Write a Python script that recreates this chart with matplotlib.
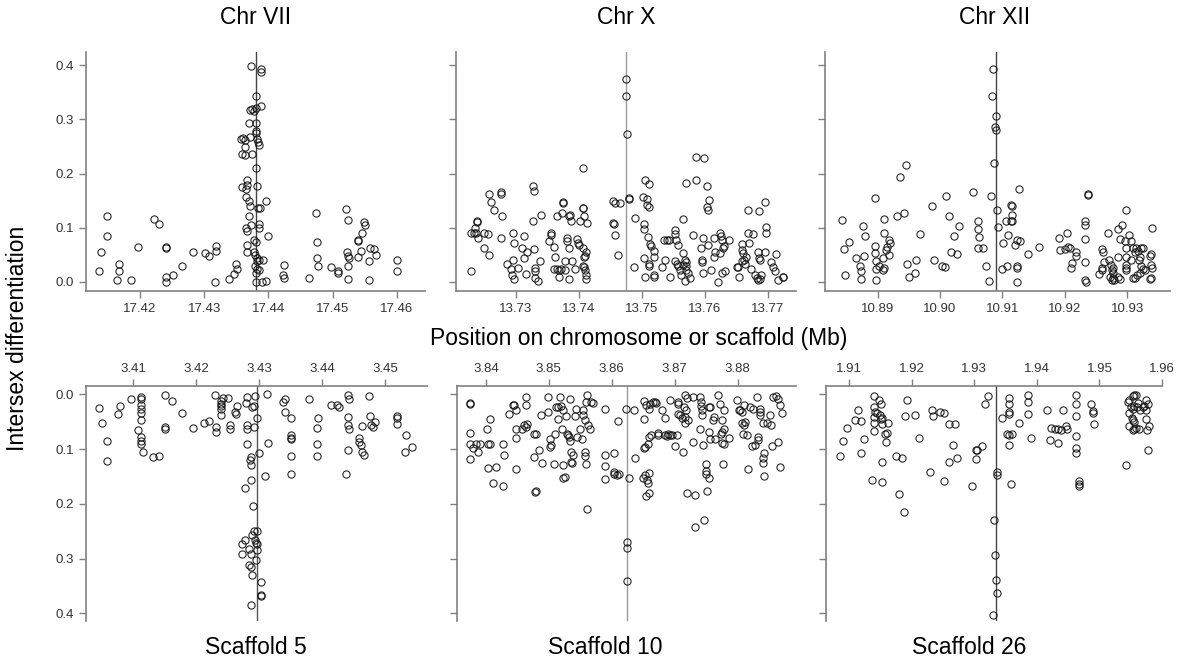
import numpy as np
import matplotlib.pyplot as plt

plt.rcParams['font.family'] = ['Liberation Sans', 'DejaVu Sans']

# (position in Mb, intersex differentiation)
chr7 = [
    (17.4136, 0.021), (17.4140, 0.055), (17.4148, 0.122), (17.4148, 0.085), (17.4164, 0.003),
    (17.4167, 0.034), (17.4168, 0.021), (17.4186, 0.003), (17.4197, 0.065), (17.4222, 0.116),
    (17.4230, 0.106), (17.4241, 0.062), (17.4240, 0.064), (17.4241, 0.009), (17.4241, 0.000),
    (17.4251, 0.012), (17.4266, 0.030), (17.4282, 0.055), (17.4301, 0.053), (17.4308, 0.048),
    (17.4318, 0.067), (17.4318, 0.058), (17.4317, 0.000), (17.4338, 0.005), (17.4347, 0.015),
    (17.4349, 0.033), (17.4351, 0.024),
    (17.4373, 0.398), (17.4389, 0.392), (17.4389, 0.387), (17.4381, 0.343), (17.4389, 0.325),
    (17.4371, 0.317), (17.4375, 0.319), (17.4381, 0.320), (17.4378, 0.316), (17.4370, 0.294),
    (17.4381, 0.294), (17.4381, 0.279), (17.4381, 0.274), (17.4358, 0.263), (17.4361, 0.266),
    (17.4363, 0.262), (17.4371, 0.267), (17.4383, 0.263), (17.4384, 0.259), (17.4385, 0.252),
    (17.4363, 0.249), (17.4359, 0.236), (17.4364, 0.234), (17.4374, 0.236), (17.4381, 0.211),
    (17.4366, 0.188), (17.4367, 0.179), (17.4359, 0.176), (17.4365, 0.172), (17.4383, 0.177),
    (17.4365, 0.156), (17.4370, 0.150), (17.4372, 0.140), (17.4384, 0.137), (17.4387, 0.137),
    (17.4396, 0.150), (17.4370, 0.121), (17.4373, 0.105), (17.4365, 0.099), (17.4367, 0.094),
    (17.4385, 0.107), (17.4385, 0.100), (17.4399, 0.085), (17.4366, 0.069), (17.4377, 0.078),
    (17.4381, 0.074), (17.4367, 0.055), (17.4377, 0.055), (17.4379, 0.049), (17.4383, 0.044),
    (17.4385, 0.041), (17.4382, 0.038), (17.4391, 0.040), (17.4379, 0.029), (17.4382, 0.024),
    (17.4385, 0.023), (17.4381, 0.017), (17.4381, 0.000), (17.4390, 0.000), (17.4397, 0.001),
    (17.4425, 0.032), (17.4423, 0.012), (17.4425, 0.007), (17.4463, 0.007), (17.4475, 0.128),
    (17.4476, 0.073), (17.4476, 0.044), (17.4477, 0.030), (17.4498, 0.028), (17.4509, 0.021),
    (17.4509, 0.017), (17.4521, 0.135), (17.4524, 0.114), (17.4523, 0.055), (17.4524, 0.048),
    (17.4525, 0.044), (17.4524, 0.029), (17.4524, 0.006), (17.4539, 0.076), (17.4540, 0.078),
    (17.4539, 0.047), (17.4545, 0.058), (17.4546, 0.091), (17.4549, 0.110), (17.4551, 0.105),
    (17.4556, 0.003), (17.4557, 0.039), (17.4559, 0.062), (17.4565, 0.061), (17.4567, 0.050),
    (17.4600, 0.041), (17.4600, 0.020),
]

chr10 = [
    (13.7229, 0.021), (13.7229, 0.090), (13.7233, 0.090), (13.7237, 0.091), (13.7235, 0.099),
    (13.7238, 0.110), (13.7239, 0.112), (13.7240, 0.082), (13.7250, 0.091), (13.7256, 0.088),
    (13.7250, 0.063), (13.7257, 0.050), (13.7257, 0.162), (13.7261, 0.148), (13.7266, 0.132),
    (13.7276, 0.165), (13.7276, 0.162), (13.7278, 0.122), (13.7276, 0.082), (13.7286, 0.034),
    (13.7296, 0.041), (13.7296, 0.090), (13.7297, 0.072), (13.7292, 0.024), (13.7294, 0.013),
    (13.7297, 0.006), (13.7303, 0.026), (13.7310, 0.063), (13.7313, 0.085), (13.7313, 0.044),
    (13.7316, 0.015), (13.7317, 0.056), (13.7328, 0.177), (13.7329, 0.167), (13.7327, 0.113),
    (13.7329, 0.061), (13.7331, 0.026), (13.7331, 0.020), (13.7331, 0.007), (13.7335, 0.001),
    (13.7338, 0.039), (13.7340, 0.124), (13.7353, 0.075), (13.7356, 0.091), (13.7356, 0.087),
    (13.7360, 0.064), (13.7362, 0.047), (13.7361, 0.024), (13.7365, 0.024), (13.7369, 0.023),
    (13.7371, 0.024), (13.7365, 0.122), (13.7373, 0.127), (13.7369, 0.010), (13.7375, 0.148),
    (13.7375, 0.146), (13.7378, 0.039), (13.7378, 0.023), (13.7381, 0.081), (13.7381, 0.075),
    (13.7384, 0.006), (13.7385, 0.063), (13.7385, 0.121), (13.7386, 0.124), (13.7387, 0.112),
    (13.7390, 0.039), (13.7394, 0.024), (13.7397, 0.079), (13.7399, 0.072), (13.7401, 0.069),
    (13.7402, 0.112), (13.7406, 0.136), (13.7407, 0.136), (13.7408, 0.121), (13.7413, 0.108),
    (13.7407, 0.211), (13.7407, 0.063), (13.7408, 0.047), (13.7410, 0.048), (13.7412, 0.055),
    (13.7406, 0.029), (13.7408, 0.027), (13.7410, 0.023), (13.7412, 0.013), (13.7412, 0.006),
    (13.7455, 0.150), (13.7457, 0.146), (13.7465, 0.145), (13.7455, 0.108), (13.7456, 0.107),
    (13.7458, 0.087), (13.7462, 0.049), (13.7475, 0.375), (13.7475, 0.343), (13.7476, 0.273),
    (13.7479, 0.154), (13.7480, 0.153), (13.7489, 0.118), (13.7488, 0.027), (13.7502, 0.156),
    (13.7505, 0.188), (13.7511, 0.180), (13.7508, 0.153), (13.7509, 0.142), (13.7512, 0.138),
    (13.7503, 0.107), (13.7504, 0.097), (13.7504, 0.044), (13.7505, 0.009), (13.7510, 0.083),
    (13.7513, 0.070), (13.7514, 0.066), (13.7520, 0.058), (13.7520, 0.047), (13.7511, 0.034),
    (13.7512, 0.030), (13.7520, 0.013), (13.7520, 0.010), (13.7532, 0.027), (13.7537, 0.041),
    (13.7536, 0.078), (13.7540, 0.078), (13.7544, 0.077), (13.7545, 0.009), (13.7553, 0.088),
    (13.7553, 0.096), (13.7554, 0.077), (13.7557, 0.069), (13.7565, 0.116), (13.7566, 0.053),
    (13.7553, 0.038), (13.7556, 0.034), (13.7558, 0.029), (13.7561, 0.023), (13.7563, 0.013),
    (13.7566, 0.032), (13.7569, 0.041), (13.7570, 0.036), (13.7570, 0.029), (13.7571, 0.023),
    (13.7569, 0.001), (13.7576, 0.007), (13.7573, 0.017), (13.7571, 0.182), (13.7581, 0.087),
    (13.7586, 0.230), (13.7599, 0.228), (13.7586, 0.188), (13.7594, 0.063), (13.7595, 0.036),
    (13.7595, 0.040), (13.7597, 0.017), (13.7598, 0.081), (13.7604, 0.177), (13.7603, 0.139),
    (13.7606, 0.133), (13.7607, 0.151), (13.7606, 0.069), (13.7610, 0.023), (13.7614, 0.081),
    (13.7615, 0.047), (13.7617, 0.056), (13.7621, 0.000), (13.7624, 0.090), (13.7626, 0.084),
    (13.7627, 0.078), (13.7629, 0.063), (13.7630, 0.067), (13.7624, 0.053), (13.7632, 0.021),
    (13.7627, 0.017), (13.7639, 0.078), (13.7651, 0.027), (13.7653, 0.028), (13.7655, 0.009),
    (13.7659, 0.070), (13.7660, 0.059), (13.7661, 0.053), (13.7659, 0.038), (13.7662, 0.041),
    (13.7664, 0.034), (13.7666, 0.047), (13.7668, 0.133), (13.7669, 0.090), (13.7676, 0.088),
    (13.7671, 0.072), (13.7674, 0.024), (13.7680, 0.012), (13.7683, 0.007), (13.7685, 0.004),
    (13.7688, 0.006), (13.7689, 0.013), (13.7686, 0.131), (13.7685, 0.055), (13.7687, 0.044),
    (13.7688, 0.040), (13.7696, 0.148), (13.7697, 0.090), (13.7698, 0.102), (13.7696, 0.055),
    (13.7706, 0.036), (13.7709, 0.027), (13.7711, 0.020), (13.7714, 0.051), (13.7716, 0.004),
    (13.7724, 0.010), (13.7725, 0.009),
]

chr12 = [
    (10.8843, 0.115), (10.8847, 0.061), (10.8848, 0.012), (10.8855, 0.073), (10.8866, 0.044),
    (10.8872, 0.029), (10.8873, 0.020), (10.8874, 0.006), (10.8876, 0.104), (10.8878, 0.048),
    (10.8880, 0.084), (10.8896, 0.154), (10.8896, 0.066), (10.8896, 0.053), (10.8898, 0.038),
    (10.8897, 0.024), (10.8898, 0.004), (10.8902, 0.030), (10.8909, 0.023), (10.8910, 0.026),
    (10.8909, 0.044), (10.8910, 0.116), (10.8910, 0.090), (10.8914, 0.059), (10.8916, 0.064),
    (10.8918, 0.078), (10.8920, 0.072), (10.8919, 0.050), (10.8932, 0.121), (10.8936, 0.193),
    (10.8942, 0.127), (10.8946, 0.216), (10.8947, 0.034), (10.8951, 0.009), (10.8960, 0.017),
    (10.8962, 0.040), (10.8968, 0.089), (10.8987, 0.141), (10.8991, 0.041), (10.9004, 0.030),
    (10.9008, 0.028), (10.9010, 0.159), (10.9015, 0.121), (10.9017, 0.055), (10.9023, 0.084),
    (10.9027, 0.052), (10.9031, 0.104), (10.9053, 0.165), (10.9060, 0.112), (10.9060, 0.097),
    (10.9062, 0.083), (10.9061, 0.063), (10.9069, 0.063), (10.9074, 0.029), (10.9079, 0.001),
    (10.9082, 0.159), (10.9085, 0.392), (10.9083, 0.343), (10.9089, 0.306), (10.9088, 0.285),
    (10.9090, 0.280), (10.9087, 0.219), (10.9091, 0.133), (10.9092, 0.102), (10.9099, 0.024),
    (10.9101, 0.072), (10.9106, 0.113), (10.9108, 0.030), (10.9109, 0.087), (10.9114, 0.142),
    (10.9115, 0.140), (10.9115, 0.124), (10.9115, 0.112), (10.9114, 0.113), (10.9120, 0.069),
    (10.9123, 0.078), (10.9128, 0.075), (10.9124, 0.029), (10.9124, 0.026), (10.9124, 0.000),
    (10.9127, 0.171), (10.9141, 0.051), (10.9159, 0.064), (10.9190, 0.082), (10.9192, 0.059),
    (10.9200, 0.061), (10.9203, 0.090), (10.9204, 0.064), (10.9208, 0.063), (10.9211, 0.035),
    (10.9209, 0.026), (10.9218, 0.055), (10.9218, 0.048), (10.9232, 0.112), (10.9232, 0.105),
    (10.9232, 0.079), (10.9232, 0.036), (10.9232, 0.004), (10.9233, 0.000), (10.9236, 0.162),
    (10.9236, 0.161), (10.9254, 0.015), (10.9259, 0.061), (10.9261, 0.055), (10.9259, 0.026),
    (10.9259, 0.023), (10.9262, 0.036), (10.9268, 0.091), (10.9271, 0.041), (10.9273, 0.032),
    (10.9275, 0.023), (10.9276, 0.017), (10.9272, 0.009), (10.9277, 0.007), (10.9275, 0.003),
    (10.9278, 0.003), (10.9277, 0.026), (10.9285, 0.047), (10.9285, 0.009), (10.9288, 0.006),
    (10.9285, 0.097), (10.9288, 0.079), (10.9292, 0.105), (10.9297, 0.132), (10.9296, 0.075),
    (10.9297, 0.063), (10.9297, 0.047), (10.9298, 0.032), (10.9297, 0.026), (10.9298, 0.023),
    (10.9303, 0.087), (10.9305, 0.075), (10.9305, 0.041), (10.9309, 0.063), (10.9312, 0.056),
    (10.9314, 0.063), (10.9317, 0.058), (10.9321, 0.063), (10.9325, 0.063), (10.9309, 0.007),
    (10.9312, 0.007), (10.9316, 0.013), (10.9320, 0.017), (10.9318, 0.040), (10.9320, 0.047),
    (10.9321, 0.029), (10.9325, 0.024), (10.9328, 0.023), (10.9336, 0.048), (10.9338, 0.051),
    (10.9337, 0.032), (10.9340, 0.026), (10.9336, 0.006), (10.9340, 0.099), (10.9338, 0.007),
]

scaf5 = [
    (3.4045, 0.025), (3.4050, 0.053), (3.4059, 0.086), (3.4059, 0.122), (3.4076, 0.036),
    (3.4079, 0.022), (3.4097, 0.009), (3.4108, 0.066), (3.4113, 0.005), (3.4113, 0.009),
    (3.4113, 0.020), (3.4113, 0.026), (3.4113, 0.035), (3.4113, 0.047), (3.4113, 0.078),
    (3.4113, 0.085), (3.4113, 0.091), (3.4115, 0.105), (3.4132, 0.114), (3.4141, 0.113),
    (3.4151, 0.002), (3.4151, 0.060), (3.4151, 0.063), (3.4162, 0.013), (3.4178, 0.034),
    (3.4194, 0.061), (3.4213, 0.053), (3.4220, 0.049), (3.4230, 0.002), (3.4231, 0.060),
    (3.4231, 0.069), (3.4239, 0.013), (3.4239, 0.017), (3.4239, 0.022), (3.4239, 0.026),
    (3.4239, 0.038), (3.4243, 0.006), (3.4251, 0.006), (3.4253, 0.057), (3.4253, 0.063),
    (3.4261, 0.032), (3.4263, 0.036), (3.4265, 0.022), (3.4280, 0.005), (3.4279, 0.016),
    (3.4280, 0.057), (3.4281, 0.063), (3.4281, 0.091), (3.4287, 0.114), (3.4285, 0.120),
    (3.4287, 0.129), (3.4287, 0.157), (3.4277, 0.171), (3.4290, 0.204), (3.4289, 0.023),
    (3.4291, 0.060), (3.4293, 0.004), (3.4292, 0.022), (3.4296, 0.250), (3.4291, 0.249),
    (3.4288, 0.257), (3.4293, 0.266), (3.4295, 0.271), (3.4296, 0.274), (3.4273, 0.274),
    (3.4277, 0.266), (3.4272, 0.291), (3.4284, 0.283), (3.4287, 0.291), (3.4296, 0.285),
    (3.4295, 0.302), (3.4284, 0.312), (3.4287, 0.316), (3.4288, 0.330), (3.4303, 0.343),
    (3.4302, 0.366), (3.4302, 0.368), (3.4287, 0.385), (3.4297, 0.044), (3.4299, 0.108),
    (3.4312, 0.000), (3.4313, 0.089), (3.4309, 0.149), (3.4340, 0.008), (3.4338, 0.014),
    (3.4340, 0.032), (3.4351, 0.044), (3.4351, 0.075), (3.4351, 0.079), (3.4351, 0.082),
    (3.4351, 0.112), (3.4351, 0.145), (3.4379, 0.009), (3.4393, 0.043), (3.4392, 0.061),
    (3.4392, 0.090), (3.4391, 0.113), (3.4414, 0.019), (3.4424, 0.019), (3.4426, 0.023),
    (3.4441, 0.002), (3.4442, 0.008), (3.4441, 0.041), (3.4441, 0.057), (3.4442, 0.063),
    (3.4441, 0.102), (3.4437, 0.146), (3.4458, 0.079), (3.4458, 0.087), (3.4461, 0.093),
    (3.4463, 0.105), (3.4466, 0.111), (3.4463, 0.058), (3.4474, 0.004), (3.4475, 0.040),
    (3.4477, 0.057), (3.4481, 0.060), (3.4484, 0.050), (3.4519, 0.040), (3.4519, 0.044),
    (3.4519, 0.055), (3.4533, 0.075), (3.4531, 0.105), (3.4542, 0.097),
]

scaf10 = [
    (3.8375, 0.016), (3.8375, 0.018), (3.8375, 0.071), (3.8375, 0.091), (3.8375, 0.119),
    (3.8380, 0.099), (3.8385, 0.091), (3.8388, 0.105), (3.8390, 0.091), (3.8402, 0.064),
    (3.8404, 0.091), (3.8407, 0.091), (3.8407, 0.046), (3.8404, 0.134), (3.8416, 0.133),
    (3.8411, 0.162), (3.8427, 0.091), (3.8428, 0.111), (3.8427, 0.168), (3.8436, 0.036),
    (3.8443, 0.019), (3.8445, 0.020), (3.8448, 0.028), (3.8448, 0.064), (3.8448, 0.079),
    (3.8448, 0.137), (3.8457, 0.063), (3.8461, 0.057), (3.8464, 0.060), (3.8466, 0.055),
    (3.8464, 0.005), (3.8464, 0.020), (3.8477, 0.072), (3.8480, 0.072), (3.8476, 0.114),
    (3.8480, 0.176), (3.8478, 0.178), (3.8484, 0.101), (3.8487, 0.038), (3.8489, 0.125),
    (3.8499, 0.005), (3.8499, 0.032), (3.8502, 0.081), (3.8503, 0.093), (3.8502, 0.096),
    (3.8508, 0.128), (3.8510, 0.072), (3.8512, 0.023), (3.8514, 0.023), (3.8514, 0.046),
    (3.8518, 0.005), (3.8519, 0.022), (3.8521, 0.063), (3.8522, 0.028), (3.8523, 0.129),
    (3.8525, 0.151), (3.8523, 0.152), (3.8528, 0.040), (3.8529, 0.073), (3.8530, 0.075),
    (3.8532, 0.078), (3.8534, 0.085), (3.8533, 0.008), (3.8535, 0.123), (3.8537, 0.126),
    (3.8535, 0.105), (3.8538, 0.111), (3.8541, 0.040), (3.8544, 0.026), (3.8545, 0.078),
    (3.8549, 0.063), (3.8553, 0.081), (3.8555, 0.029), (3.8555, 0.038), (3.8558, 0.047),
    (3.8558, 0.105), (3.8557, 0.113), (3.8559, 0.014), (3.8561, 0.002), (3.8563, 0.057),
    (3.8565, 0.063), (3.8567, 0.014), (3.8571, 0.016), (3.8559, 0.128), (3.8561, 0.210),
    (3.8589, 0.026), (3.8589, 0.111), (3.8589, 0.131), (3.8589, 0.154), (3.8603, 0.107),
    (3.8603, 0.142), (3.8604, 0.146), (3.8608, 0.147), (3.8612, 0.146), (3.8610, 0.049),
    (3.8622, 0.026), (3.8624, 0.269), (3.8624, 0.281), (3.8624, 0.341), (3.8627, 0.152),
    (3.8636, 0.029), (3.8637, 0.117), (3.8650, 0.153), (3.8653, 0.148), (3.8656, 0.156),
    (3.8657, 0.162), (3.8659, 0.143), (3.8655, 0.186), (3.8659, 0.181), (3.8652, 0.012),
    (3.8655, 0.020), (3.8659, 0.026), (3.8661, 0.017), (3.8652, 0.046), (3.8652, 0.099),
    (3.8653, 0.096), (3.8657, 0.090), (3.8660, 0.078), (3.8662, 0.074), (3.8666, 0.014),
    (3.8669, 0.014), (3.8671, 0.016), (3.8673, 0.071), (3.8673, 0.075), (3.8680, 0.029),
    (3.8685, 0.043), (3.8685, 0.075), (3.8688, 0.077), (3.8689, 0.072), (3.8692, 0.075),
    (3.8693, 0.011), (3.8696, 0.075), (3.8701, 0.094), (3.8703, 0.075), (3.8705, 0.014),
    (3.8706, 0.017), (3.8706, 0.036), (3.8709, 0.038), (3.8712, 0.043), (3.8715, 0.023),
    (3.8717, 0.041), (3.8717, 0.002), (3.8719, 0.006), (3.8718, 0.029), (3.8721, 0.047),
    (3.8717, 0.053), (3.8714, 0.105), (3.8719, 0.181), (3.8733, 0.184), (3.8729, 0.087),
    (3.8730, 0.005), (3.8733, 0.243), (3.8741, 0.005), (3.8742, 0.014), (3.8742, 0.022),
    (3.8743, 0.028), (3.8743, 0.038), (3.8741, 0.064), (3.8745, 0.093), (3.8746, 0.229),
    (3.8750, 0.128), (3.8750, 0.140), (3.8750, 0.146), (3.8754, 0.152), (3.8751, 0.176),
    (3.8754, 0.069), (3.8755, 0.024), (3.8757, 0.023), (3.8757, 0.082), (3.8761, 0.047),
    (3.8763, 0.041), (3.8765, 0.081), (3.8769, 0.002), (3.8772, 0.017), (3.8774, 0.072),
    (3.8775, 0.069), (3.8776, 0.089), (3.8778, 0.091), (3.8778, 0.063), (3.8779, 0.028),
    (3.8777, 0.128), (3.8776, 0.047), (3.8787, 0.079), (3.8799, 0.011), (3.8802, 0.029),
    (3.8804, 0.028), (3.8807, 0.032), (3.8807, 0.053), (3.8808, 0.072), (3.8810, 0.057),
    (3.8812, 0.050), (3.8811, 0.020), (3.8815, 0.075), (3.8817, 0.137), (3.8820, 0.024),
    (3.8823, 0.095), (3.8824, 0.026), (3.8828, 0.093), (3.8831, 0.005), (3.8832, 0.078),
    (3.8833, 0.084), (3.8835, 0.026), (3.8836, 0.032), (3.8836, 0.038), (3.8842, 0.107),
    (3.8841, 0.117), (3.8840, 0.126), (3.8842, 0.149), (3.8840, 0.053), (3.8847, 0.053),
    (3.8851, 0.037), (3.8853, 0.057), (3.8855, 0.095), (3.8857, 0.005), (3.8861, 0.004),
    (3.8865, 0.008), (3.8867, 0.020), (3.8870, 0.035), (3.8865, 0.087), (3.8867, 0.133),
]

scaf26 = [
    (1.9086, 0.112), (1.9090, 0.086), (1.9096, 0.061), (1.9109, 0.047), (1.9119, 0.049),
    (1.9114, 0.028), (1.9119, 0.107), (1.9123, 0.081), (1.9139, 0.004), (1.9148, 0.010),
    (1.9151, 0.018), (1.9140, 0.024), (1.9141, 0.032), (1.9144, 0.034), (1.9139, 0.041),
    (1.9139, 0.053), (1.9140, 0.067), (1.9149, 0.038), (1.9152, 0.043), (1.9152, 0.055),
    (1.9151, 0.046), (1.9162, 0.052), (1.9157, 0.073), (1.9161, 0.071), (1.9159, 0.087),
    (1.9152, 0.123), (1.9137, 0.156), (1.9152, 0.161), (1.9175, 0.113), (1.9184, 0.116),
    (1.9180, 0.183), (1.9187, 0.215), (1.9189, 0.040), (1.9193, 0.010), (1.9205, 0.038),
    (1.9211, 0.079), (1.9232, 0.028), (1.9234, 0.040), (1.9229, 0.142), (1.9245, 0.032),
    (1.9252, 0.035), (1.9252, 0.159), (1.9259, 0.123), (1.9260, 0.055), (1.9269, 0.055),
    (1.9266, 0.093), (1.9273, 0.116), (1.9296, 0.167), (1.9303, 0.101), (1.9304, 0.101),
    (1.9303, 0.119), (1.9312, 0.095), (1.9317, 0.017), (1.9322, 0.003), (1.9336, 0.142),
    (1.9336, 0.148), (1.9332, 0.229), (1.9333, 0.294), (1.9334, 0.340), (1.9336, 0.362),
    (1.9330, 0.403), (1.9344, 0.044), (1.9353, 0.072), (1.9355, 0.074), (1.9361, 0.072),
    (1.9356, 0.093), (1.9356, 0.006), (1.9356, 0.017), (1.9355, 0.032), (1.9356, 0.036),
    (1.9358, 0.163), (1.9372, 0.053), (1.9386, 0.002), (1.9386, 0.014), (1.9386, 0.036),
    (1.9390, 0.080), (1.9417, 0.029), (1.9421, 0.083), (1.9433, 0.089), (1.9422, 0.061),
    (1.9429, 0.063), (1.9433, 0.064), (1.9439, 0.066), (1.9447, 0.058), (1.9448, 0.063),
    (1.9442, 0.029), (1.9462, 0.002), (1.9462, 0.017), (1.9462, 0.040), (1.9462, 0.077),
    (1.9462, 0.099), (1.9462, 0.108), (1.9467, 0.159), (1.9468, 0.163), (1.9468, 0.167),
    (1.9486, 0.017), (1.9490, 0.030), (1.9490, 0.035), (1.9491, 0.055), (1.9543, 0.129),
    (1.9546, 0.014), (1.9548, 0.011), (1.9554, 0.004), (1.9556, 0.002), (1.9559, 0.002),
    (1.9562, 0.016), (1.9554, 0.026), (1.9551, 0.024), (1.9548, 0.035), (1.9552, 0.044),
    (1.9554, 0.047), (1.9556, 0.050), (1.9555, 0.063), (1.9559, 0.061), (1.9563, 0.063),
    (1.9548, 0.058), (1.9553, 0.066), (1.9555, 0.022), (1.9560, 0.024), (1.9565, 0.028),
    (1.9570, 0.024), (1.9572, 0.022), (1.9575, 0.029), (1.9575, 0.011), (1.9578, 0.018),
    (1.9575, 0.046), (1.9576, 0.066), (1.9580, 0.058), (1.9577, 0.101),
]

peaks = [17.4381, 13.7475, 10.9089, 3.4296, 3.8624, 1.9334]
xlims = [(17.4116, 17.4644), (13.7205, 13.7745), (10.8816, 10.9368),
         (3.4025, 3.4566), (3.8354, 3.8893), (1.9063, 1.9600)]
xticks = [[17.42, 17.43, 17.44, 17.45, 17.46],
          [13.73, 13.74, 13.75, 13.76, 13.77],
          [10.89, 10.90, 10.91, 10.92, 10.93],
          [3.41, 3.42, 3.43, 3.44, 3.45],
          [3.84, 3.85, 3.86, 3.87, 3.88],
          [1.91, 1.92, 1.93, 1.94, 1.95, 1.96]]
yticks = [0.0, 0.1, 0.2, 0.3, 0.4]
titles = ['Chr VII', 'Chr X', 'Chr XII', 'Scaffold 5', 'Scaffold 10', 'Scaffold 26']
line_cols = ['#444444', '#9a9a9a', '#444444', '#555555', '#9a9a9a', '#444444']
datasets = [chr7, chr10, chr12, scaf5, scaf10, scaf26]

W, H = 1178, 664
fig = plt.figure(figsize=(W / 100, H / 100), dpi=100)

# axes boxes in pixels: left, top, right, bottom
boxes = [(86, 52, 425, 291), (456, 52, 796, 291), (825, 52, 1170, 291),
         (86, 386, 427, 621), (457, 386, 796, 621), (826, 386, 1162, 621)]

axcol = '#808080'
tcol = '#333333'
for i, (data, box) in enumerate(zip(datasets, boxes)):
    l, t, r, b = box
    ax = fig.add_axes([l / W, 1 - b / H, (r - l) / W, (b - t) / H])
    pts = np.array(data)
    ax.axvline(peaks[i], color=line_cols[i], lw=1.0, zorder=1)
    ax.plot(pts[:, 0], pts[:, 1], 'o', ms=5.2, mfc='none', mec='#1a1a1a', mew=0.75, zorder=2)
    ax.set_xlim(*xlims[i])
    ax.set_xticks(xticks[i])
    ax.set_xticklabels(['%.2f' % v for v in xticks[i]])
    ax.set_yticks(yticks)
    for s in ax.spines.values():
        s.set_color(axcol)
        s.set_linewidth(1.2)
    ax.spines['right'].set_visible(False)
    ax.tick_params(colors=axcol, labelcolor=tcol, labelsize=9.5, width=1.0)
    ax.tick_params(axis='y', length=5, pad=4)
    if i < 3:
        ax.set_ylim(-0.0166, 0.424)
        ax.spines['top'].set_visible(False)
        ax.tick_params(axis='x', length=5, pad=4)
        fig.text([256, 626, 995][i] / W, 1 - 18 / H, titles[i], ha='center', va='center', fontsize=16.5)
    else:
        ax.set_ylim(0.414, -0.0151)
        ax.spines['bottom'].set_visible(False)
        ax.xaxis.tick_top()
        ax.tick_params(axis='x', length=5, pad=3)
        fig.text([256, 605, 969][i - 3] / W, 1 - 648 / H, titles[i], ha='center', va='center', fontsize=16.5)
    if i in (0, 3):
        ax.set_yticklabels(['%.1f' % v for v in yticks])
    else:
        ax.set_yticklabels([])

fig.text(639 / W, 1 - 338 / H, 'Position on chromosome or scaffold (Mb)', ha='center', va='center', fontsize=16.5)
fig.text(18 / W, 1 - 338 / H, 'Intersex differentiation', ha='center', va='center', rotation=90, fontsize=16.5)

fig.savefig('out.png', dpi=100)
